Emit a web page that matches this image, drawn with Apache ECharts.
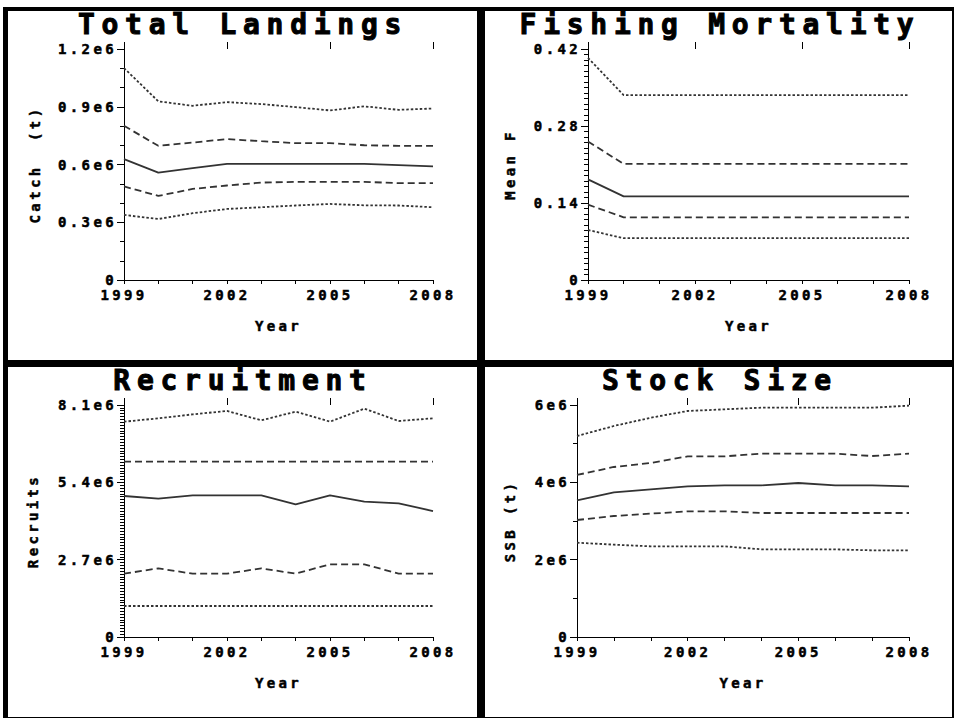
<!DOCTYPE html>
<html>
<head>
<meta charset="utf-8">
<script src="https://cdn.jsdelivr.net/npm/echarts@6/dist/echarts.min.js"></script>
<style>
body { margin: 0; background: #fff; }
#frame { position: absolute; left: 3px; top: 7px; width: 951px; height: 711px; background: #000; }
.panel { position: absolute; background: #fff; }
#chart { position: absolute; left: 0; top: 0; width: 955px; height: 719px; }
#chart svg text { letter-spacing: 0.24em; }
</style>
</head>
<body>
<div id="frame"></div>
<div class="panel" style="left:8px;top:11px;width:469px;height:349px"></div>
<div class="panel" style="left:485px;top:11px;width:467px;height:349px"></div>
<div class="panel" style="left:8px;top:367px;width:469px;height:350px"></div>
<div class="panel" style="left:485px;top:367px;width:467px;height:350px"></div>
<div id="chart"></div>
<script>
var years = ['1999', '2000', '2001', '2002', '2003', '2004', '2005', '2006', '2007', '2008'];

// Total landings (t)
var catchQ95 = [1101000, 928000, 905000, 924000, 914000, 898000, 881000, 902000, 884000, 891000];
var catchQ75 = [801000, 697000, 714000, 732000, 721000, 711000, 711000, 700000, 697000, 697000];
var catchMedian = [628000, 558000, 581000, 603000, 603000, 603000, 603000, 603000, 597000, 590000];
var catchQ25 = [486000, 437000, 473000, 491000, 506000, 510000, 510000, 510000, 503000, 503000];
var catchQ05 = [338000, 317000, 347000, 369000, 378000, 387000, 395000, 388000, 387000, 378000];
var catchTicks = ['0', '0.3e6', '0.6e6', '0.9e6', '1.2e6'];

// Fishing mortality (mean F)
var fQ95 = [0.404, 0.336, 0.336, 0.336, 0.336, 0.336, 0.336, 0.336, 0.336, 0.336];
var fQ75 = [0.252, 0.211, 0.211, 0.211, 0.211, 0.211, 0.211, 0.211, 0.211, 0.211];
var fMedian = [0.183, 0.152, 0.152, 0.152, 0.152, 0.152, 0.152, 0.152, 0.152, 0.152];
var fQ25 = [0.137, 0.114, 0.114, 0.114, 0.114, 0.114, 0.114, 0.114, 0.114, 0.114];
var fQ05 = [0.091, 0.076, 0.076, 0.076, 0.076, 0.076, 0.076, 0.076, 0.076, 0.076];
var fTicks = ['0', '0.14', '0.28', '0.42'];

// Recruitment
var recQ95 = [7518000, 7635000, 7774000, 7891000, 7565000, 7867000, 7518000, 7972000, 7541000, 7635000];
var recQ75 = [6122000, 6122000, 6122000, 6122000, 6122000, 6122000, 6122000, 6122000, 6122000, 6122000];
var recMedian = [4923000, 4830000, 4946000, 4946000, 4946000, 4632000, 4946000, 4725000, 4667000, 4399000];
var recQ25 = [2211000, 2397000, 2211000, 2211000, 2397000, 2211000, 2537000, 2537000, 2211000, 2211000];
var recQ05 = [1082000, 1082000, 1082000, 1082000, 1082000, 1082000, 1082000, 1082000, 1082000, 1082000];
var recTicks = ['0', '2.7e6', '5.4e6', '8.1e6'];

// Stock size, SSB (t)
var ssbQ95 = [5198000, 5457000, 5672000, 5845000, 5888000, 5931000, 5931000, 5931000, 5931000, 5983000];
var ssbQ75 = [4190000, 4397000, 4500000, 4672000, 4672000, 4741000, 4741000, 4741000, 4681000, 4741000];
var ssbMedian = [3534000, 3741000, 3819000, 3897000, 3922000, 3922000, 3983000, 3922000, 3922000, 3897000];
var ssbQ25 = [3026000, 3129000, 3190000, 3250000, 3250000, 3207000, 3207000, 3207000, 3207000, 3207000];
var ssbQ05 = [2440000, 2388000, 2345000, 2345000, 2345000, 2267000, 2267000, 2267000, 2241000, 2241000];
var ssbTicks = ['0', '2e6', '4e6', '6e6'];

var panels = [
	{title: 'Total Landings', yName: 'Catch  (t)', ticks: catchTicks, max: 1.2e6, interval: 0.3e6, minor: 3,
		lines: [catchQ95, catchQ75, catchMedian, catchQ25, catchQ05],
		grid: {left: 124, top: 49, width: 309, height: 231}, cx: 243, ty: 10, nameGap: 82},
	{title: 'Fishing Mortality', yName: 'Mean F', ticks: fTicks, max: 0.42, interval: 0.14, minor: 14,
		lines: [fQ95, fQ75, fMedian, fQ25, fQ05],
		grid: {left: 588, top: 49, width: 321, height: 231}, cx: 720, ty: 10, nameGap: 71},
	{title: 'Recruitment', yName: 'Recruits', ticks: recTicks, max: 8.1e6, interval: 2.7e6, minor: 27,
		lines: [recQ95, recQ75, recMedian, recQ25, recQ05],
		grid: {left: 124, top: 405, width: 309, height: 232}, cx: 243, ty: 366, nameGap: 84},
	{title: 'Stock Size', yName: 'SSB (t)', ticks: ssbTicks, max: 6e6, interval: 2e6, minor: 2,
		lines: [ssbQ95, ssbQ75, ssbMedian, ssbQ25, ssbQ05],
		grid: {left: 577, top: 405, width: 332, height: 232}, cx: 720, ty: 366, nameGap: 60}
];

// dotted outer band, dashed inner band, solid median
var lineTypes = [[2.5, 2], [7, 4], 'solid', [7, 4], [2.5, 2]];

var font = {
	color: '#000', fontFamily: 'DejaVu Sans Mono', fontWeight: 'bold', fontSize: 14,
	textBorderColor: '#000', textBorderWidth: 0.5
};

var option = {
	animation: false,
	backgroundColor: 'transparent',
	title: [], grid: [], xAxis: [], yAxis: [], series: []
};

panels.forEach(function (p, i) {
	option.title.push({
		text: p.title, left: p.cx, top: p.ty, textAlign: 'center', padding: 0,
		textStyle: {
			color: '#000', fontFamily: 'DejaVu Sans Mono', fontWeight: 'bold', fontSize: 28,
			textBorderColor: '#000', textBorderWidth: 1
		}
	});
	option.grid.push(p.grid);
	option.xAxis.push({
		type: 'category', gridIndex: i, data: years, boundaryGap: false,
		axisLine: {lineStyle: {color: '#000', width: 1}},
		axisTick: {interval: 0, length: 4, lineStyle: {color: '#000'}},
		axisLabel: Object.assign({interval: 2, margin: 8}, font),
		name: 'Year', nameLocation: 'middle', nameGap: 39, nameTextStyle: font
	});
	// longer ticks at the labelled years
	option.xAxis.push({
		type: 'category', gridIndex: i, data: years, boundaryGap: false,
		axisLine: {show: false},
		axisTick: {interval: 2, length: 7, lineStyle: {color: '#000'}},
		axisLabel: {show: false}
	});
	option.yAxis.push({
		type: 'value', gridIndex: i, min: 0, max: p.max, interval: p.interval,
		axisLine: {show: true, lineStyle: {color: '#000', width: 1}},
		axisTick: {show: true, length: 7, lineStyle: {color: '#000'}},
		minorTick: {show: true, splitNumber: p.minor, length: 4, lineStyle: {color: '#000'}},
		splitLine: {show: false},
		axisLabel: Object.assign({margin: 7, formatter: function (v) {
			return p.ticks[Math.round(v / p.interval)];
		}}, font),
		name: p.yName, nameLocation: 'middle', nameRotate: 90, nameGap: p.nameGap, nameTextStyle: font
	});
	p.lines.forEach(function (d, k) {
		option.series.push({
			type: 'line', xAxisIndex: i * 2, yAxisIndex: i, data: d,
			symbol: 'none', silent: true,
			lineStyle: {color: '#333', width: 1.8, type: lineTypes[k]}
		});
	});
});

var myChart = echarts.init(document.getElementById('chart'), null, {renderer: 'svg'});
myChart.setOption(option);
</script>
</body>
</html>
